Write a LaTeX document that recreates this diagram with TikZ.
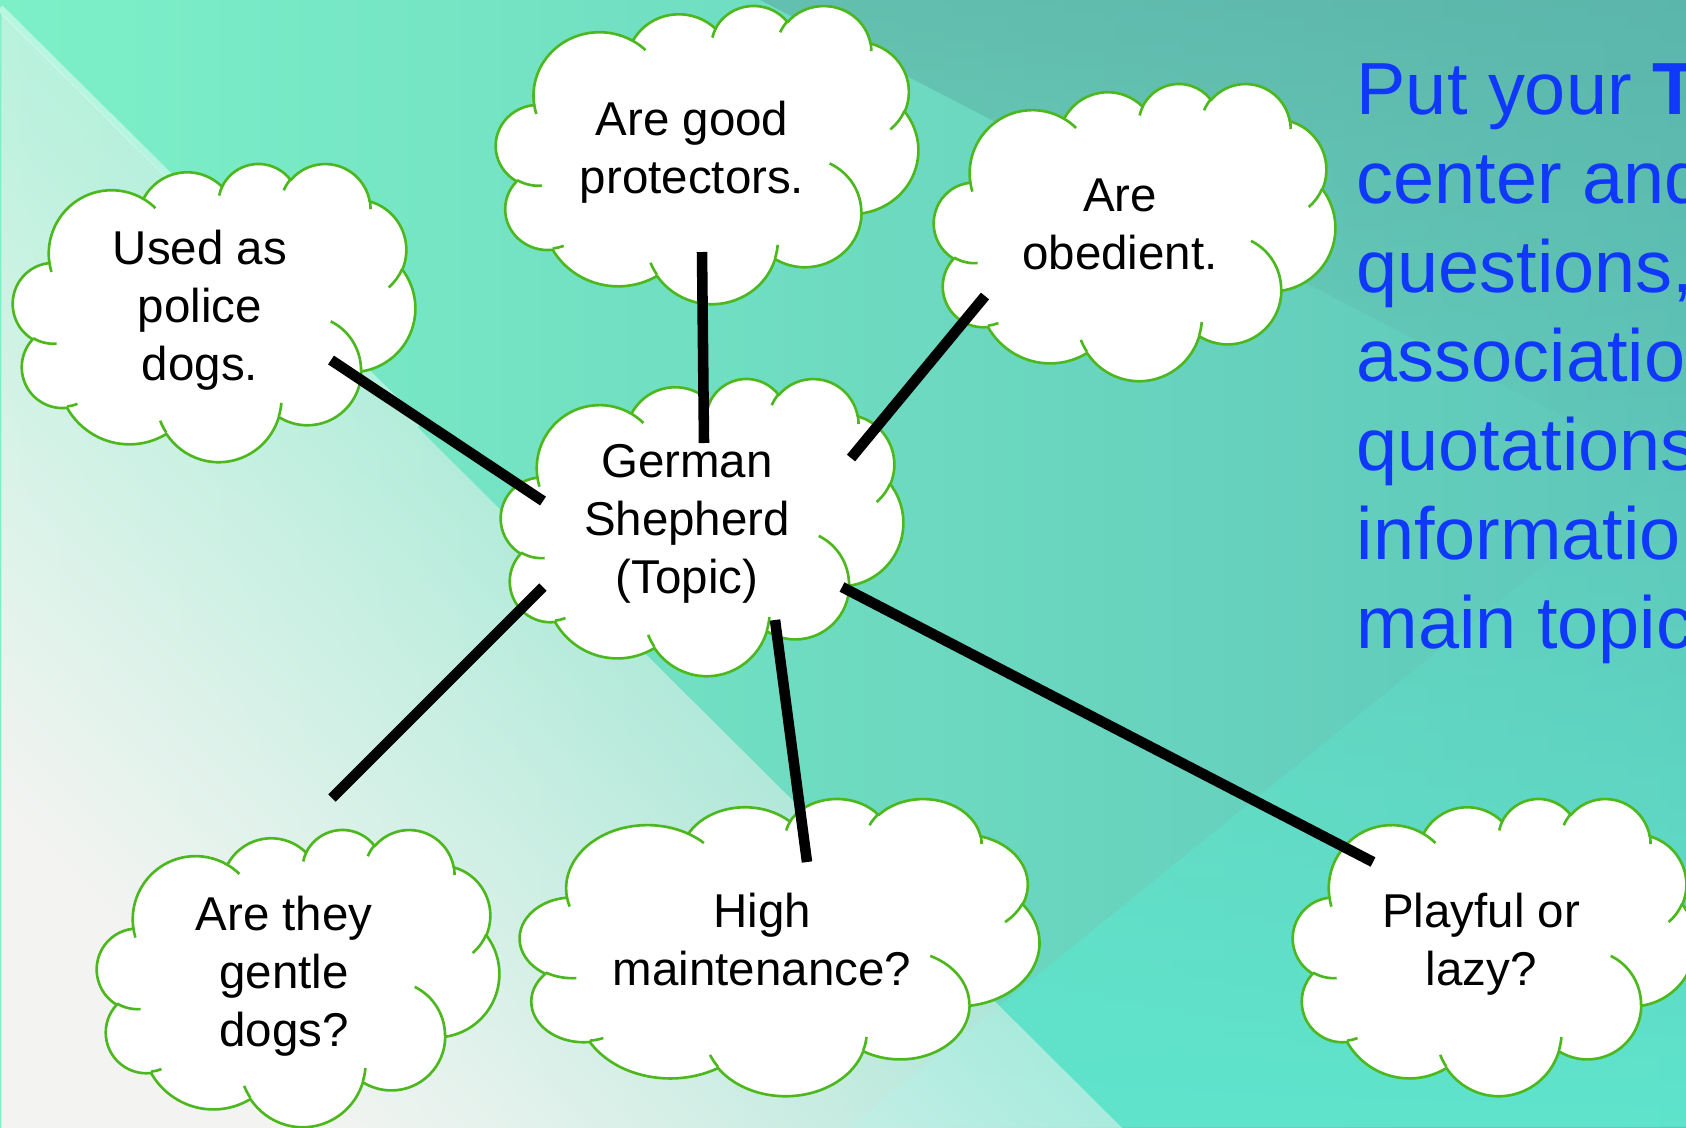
\documentclass[tikz,border=0pt]{standalone}
\usepackage{fontspec}
\setmainfont{Liberation Sans}
\usetikzlibrary{fadings}
\definecolor{cloudgreen}{HTML}{4CB81E}
\definecolor{bluetext}{HTML}{1038FA}
\definecolor{bgmint}{HTML}{7DF0C8}
\definecolor{bgmid}{HTML}{63D8C3}
\definecolor{bgteal}{HTML}{5EC6B9}
\definecolor{bgdark}{HTML}{5AA8A0}
\definecolor{bgcyan}{HTML}{5FE4CC}
\definecolor{bgwhite}{HTML}{F3F4F2}

\tikzfading[name=lightfade, left color=transparent!0, middle color=transparent!45, right color=transparent!100]

\newcommand\cloudtmp{}
\newcommand\cloudinnertmp{}
\newcommand\mkarc[4]{%
  \pgfmathsetmacro\cldS{atan2((#1)*sin(#3),(#2)*cos(#3))}%
  \pgfmathsetmacro\cldE{atan2((#1)*sin((#3)+(#4)),(#2)*cos((#3)+(#4)))}%
  \pgfmathsetmacro\cldD{mod((\cldE)-(\cldS)+720,360)}%
  \xdef\cloudtmp{\cloudtmp arc[start angle=\cldS, delta angle=\cldD, x radius=#1, y radius=#2]}%
}
\newcommand\mkinner[6]{%
  \pgfmathsetmacro\cldS{atan2((#3)*sin(#5),(#4)*cos(#5))}%
  \pgfmathsetmacro\cldE{atan2((#3)*sin((#5)+(#6)),(#4)*cos((#5)+(#6)))}%
  \pgfmathsetmacro\cldD{mod((\cldE)-(\cldS)+720,360)}%
  \xdef\cloudinnertmp{\cloudinnertmp (#1,#2) arc[start angle=\cldS, delta angle=\cldD, x radius=#3, y radius=#4]}%
}
\mkarc{6.753}{9.190}{-190.4875}{123.7805}
\mkarc{5.333}{7.267}{-144.1024}{89.9452}
\mkarc{4.365}{5.945}{-145.8079}{99.7230}
\mkarc{4.857}{6.595}{-130.9861}{117.2417}
\mkarc{5.333}{7.273}{-78.7089}{109.0269}
\mkarc{6.775}{9.220}{-46.2673}{130.2690}
\mkarc{5.785}{7.867}{0.6250}{114.0333}
\mkarc{6.752}{9.215}{22.4516}{115.1726}
\mkarc{7.720}{10.543}{66.2426}{75.7110}
\mkarc{4.360}{5.918}{-274.9421}{146.7356}
\mkarc{4.345}{5.945}{-246.8285}{152.5189}
\mkinner{4.693}{26.177}{4.345}{5.945}{86.7420}{26.4295}
\mkinner{6.928}{34.899}{4.360}{5.918}{73.6105}{11.4475}
\mkinner{16.478}{39.090}{6.752}{9.215}{137.6242}{14.0811}
\mkinner{28.827}{34.751}{6.752}{9.215}{6.4533}{15.9984}
\mkinner{34.129}{22.954}{5.785}{7.867}{-70.2924}{70.9174}
\mkinner{41.798}{15.354}{5.333}{7.273}{30.3180}{27.7515}
\mkinner{38.324}{5.426}{4.857}{6.595}{-13.7443}{14.8589}
\mkinner{29.078}{3.952}{4.857}{6.595}{-149.1815}{18.1954}
\mkinner{22.141}{4.720}{4.365}{5.945}{-163.4943}{17.6864}
\mkinner{14.000}{5.192}{6.753}{9.190}{-66.7070}{12.3194}
\mkinner{4.127}{15.789}{6.753}{9.190}{157.6544}{11.8582}

\tikzset{
  cloudline/.style={draw=cloudgreen, line width=0.75pt, line join=round},
  pics/pptcloud/.style n args={2}{code={
    \begin{scope}[x=1cm, y=1cm, xscale=#1/4320, yscale=-#2/4320]
      \path[cloudline, fill=white] (3.9,14.37) \cloudtmp -- cycle;
      \path[cloudline] \cloudinnertmp;
    \end{scope}
  }},
  ctext/.style={align=center, inner sep=0pt, text=black,
    font=\fontsize{13.5}{16.5}\selectfont},
  btext/.style={align=left, anchor=north west, inner sep=0pt, text=bluetext,
    font=\fontsize{21}{25.3}\selectfont},
  conn/.style={draw=black, line width=3pt},
}

\begin{document}
\begin{tikzpicture}[x=0.01cm, y=-0.01cm]
\useasboundingbox (0,0) rectangle (1686,1127);
\clip (0,0) rectangle (1686,1127);

% background
\shade[left color=bgmint, middle color=bgmid, right color=bgteal] (0,0) rectangle (1686,1127);
\fill[bgdark, opacity=0.55, path fading=south] (760,0) -- (1686,0) -- (1686,480) -- cycle;
\fill[bgcyan, path fading=north] (850,1127) -- (1686,1127) -- (1686,450) -- cycle;
\fill[bgwhite, path fading=lightfade, fading angle=45]
  (0,8) -- (1125,1127) -- (0,1127) -- cycle;
\draw[white, opacity=0.45, line width=2pt] (0,8) -- (420,425);

% clouds
\pic at (13,163) {pptcloud={402}{298}};
\pic at (496,5) {pptcloud={422}{298}};
\pic at (934,83) {pptcloud={401}{297}};
\pic at (501,378) {pptcloud={402}{297}};
\pic at (97,829) {pptcloud={402}{297}};
\pic at (520,798) {pptcloud={519}{297}};
\pic at (1293,798) {pptcloud={402}{297}};

% texts
\node[ctext] (police) at (200,311) {\strut Used as\\police\\dogs.\strut};
\node[ctext] (protect) at (692,153) {\strut Are good\\protectors.\strut};
\node[ctext] (obed) at (1120,229) {\strut Are\\obedient.\strut};
\node[ctext] (topic) at (687,524) {\strut German\\Shepherd\\(Topic)\strut};
\node[ctext] (gentle) at (284,977) {\strut Are they\\gentle\\dogs?\strut};
\node[ctext] (maint) at (762,945) {\strut High\\maintenance?\strut};
\node[ctext] (play) at (1481,945) {\strut Playful or\\lazy?\strut};

\node[btext] (hint) at (1356,52) {\strut Put your \textbf{T}\\center and\\questions,\\associatio\\quotations\\informatio\\main topic\strut};

% connector end points
\coordinate (p1) at (331,360);  \coordinate (t1) at (543,501);
\coordinate (p2) at (702,252);  \coordinate (t2) at (704,443);
\coordinate (p3) at (985,296);  \coordinate (t3) at (851,458);
\coordinate (p4) at (332,798);  \coordinate (t4) at (543,587);
\coordinate (p5) at (807,862);  \coordinate (t5) at (775,620);
\coordinate (p6) at (1373,862); \coordinate (t6) at (842,587);

\draw[conn] (p1) -- (t1);
\draw[conn] (p2) -- (t2);
\draw[conn] (p3) -- (t3);
\draw[conn] (p4) -- (t4);
\draw[conn] (p5) -- (t5);
\draw[conn] (p6) -- (t6);
\end{tikzpicture}
\end{document}
